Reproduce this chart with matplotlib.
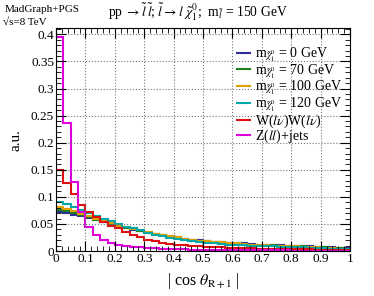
import numpy as np
import matplotlib
matplotlib.use('Agg')
import matplotlib.pyplot as plt
from matplotlib.ticker import MultipleLocator, FormatStrFormatter

plt.rcParams['font.family'] = ['Liberation Serif', 'DejaVu Serif']
plt.rcParams['mathtext.fontset'] = 'stix'

# |cos theta| histograms, 40 bins of 0.025
edges = np.linspace(0, 1, 41)

m0 = [0.072, 0.070, 0.067, 0.064, 0.061, 0.057, 0.053, 0.049, 0.045, 0.042,
      0.039, 0.037, 0.034, 0.032, 0.029, 0.027, 0.025, 0.023, 0.021, 0.0195,
      0.018, 0.017, 0.016, 0.015, 0.0145, 0.014, 0.013, 0.012, 0.0115, 0.011,
      0.0105, 0.010, 0.0095, 0.009, 0.0085, 0.008, 0.0075, 0.007, 0.006, 0.005]
m70 = [0.076, 0.073, 0.070, 0.066, 0.062, 0.058, 0.054, 0.050, 0.046, 0.043,
       0.040, 0.037, 0.034, 0.032, 0.029, 0.027, 0.025, 0.023, 0.021, 0.019,
       0.018, 0.017, 0.016, 0.015, 0.014, 0.013, 0.012, 0.0115, 0.011, 0.0105,
       0.010, 0.0095, 0.009, 0.0085, 0.008, 0.0075, 0.007, 0.006, 0.005, 0.004]
m100 = [0.082, 0.078, 0.074, 0.069, 0.065, 0.060, 0.056, 0.052, 0.047, 0.044,
        0.041, 0.038, 0.035, 0.032, 0.030, 0.028, 0.025, 0.023, 0.021, 0.019,
        0.018, 0.017, 0.016, 0.015, 0.014, 0.013, 0.012, 0.011, 0.0105, 0.010,
        0.0095, 0.009, 0.0085, 0.008, 0.0075, 0.007, 0.006, 0.005, 0.004, 0.003]
m120 = [0.091, 0.087, 0.081, 0.076, 0.070, 0.065, 0.060, 0.055, 0.050, 0.045,
        0.042, 0.038, 0.034, 0.030, 0.027, 0.024, 0.022, 0.020, 0.018, 0.016,
        0.015, 0.014, 0.013, 0.012, 0.011, 0.0105, 0.010, 0.0095, 0.009, 0.0085,
        0.008, 0.0075, 0.007, 0.0065, 0.006, 0.0055, 0.005, 0.004, 0.0035, 0.003]
ww = [0.150, 0.126, 0.105, 0.085, 0.072, 0.062, 0.054, 0.047, 0.042, 0.035,
      0.029, 0.025, 0.021, 0.018, 0.015, 0.013, 0.012, 0.011, 0.0095, 0.0085,
      0.0075, 0.007, 0.0065, 0.006, 0.0055, 0.005, 0.0048, 0.0045, 0.0042, 0.004,
      0.0038, 0.0035, 0.0032, 0.003, 0.0028, 0.0026, 0.0024, 0.0022, 0.002, 0.0018]
zjets = [0.395, 0.236, 0.127, 0.072, 0.045, 0.029, 0.021, 0.015, 0.011, 0.009,
         0.0075, 0.0065, 0.0055, 0.0048, 0.0042, 0.0037, 0.0033, 0.003, 0.0027, 0.0024,
         0.0022, 0.002, 0.0018, 0.0017, 0.0016, 0.0015, 0.0014, 0.0013, 0.0012, 0.0011,
         0.001, 0.001, 0.0009, 0.0009, 0.0008, 0.0008, 0.0007, 0.0007, 0.0006, 0.0006]

series = [m0, m70, m100, m120, ww, zjets]
labels = [r'm$_{\tilde{\chi}^0_1}$ = 0 GeV',
          r'm$_{\tilde{\chi}^0_1}$ = 70 GeV',
          r'm$_{\tilde{\chi}^0_1}$ = 100 GeV',
          r'm$_{\tilde{\chi}^0_1}$ = 120 GeV',
          r'W($l\nu$)W($l\nu$)',
          r'Z($ll$)+jets']
colors = ['#2e2e9a', '#1f7f1f', '#e0a000', '#00a8a8', '#dd1111', '#dd00dd']

fig = plt.figure(figsize=(3.74, 2.96), dpi=100)
ax = fig.add_axes([0.150, 0.152, 0.786, 0.752])

for vals, lab, col in zip(series, labels, colors):
    ax.stairs(vals, edges, color=col, lw=1.5, label=lab, baseline=None)

ax.set_xlim(0, 1)
ax.set_ylim(0, 0.411)
ax.xaxis.set_major_locator(MultipleLocator(0.1))
ax.xaxis.set_minor_locator(MultipleLocator(0.02))
ax.yaxis.set_major_locator(MultipleLocator(0.05))
ax.yaxis.set_minor_locator(MultipleLocator(0.01))
ax.xaxis.set_major_formatter(FormatStrFormatter('%g'))
ax.yaxis.set_major_formatter(FormatStrFormatter('%g'))
ax.tick_params(which='both', direction='in', top=True, right=True, labelsize=9.5, pad=1.5)
ax.tick_params(which='major', length=7)
ax.tick_params(which='minor', length=3.5)
ax.grid(True, which='major', color='#777777', linestyle=':', linewidth=0.8)

ax.set_ylabel('a.u.', fontsize=11)
ax.yaxis.set_label_coords(-0.115, 0.5)
ax.set_xlabel(r'| cos $\theta_{\mathrm{R+1}}$ |', fontsize=11.5, labelpad=4)

leg = ax.legend(loc='upper right', bbox_to_anchor=(1.0, 0.96), frameon=False,
                fontsize=10, handlelength=1.0, handletextpad=0.3,
                labelspacing=-0.12, borderaxespad=0.2)

fig.text(0.289, 0.941,
         r'pp $\rightarrow\tilde{l}\,\tilde{l}$; $\tilde{l}\rightarrow l\ \tilde{\chi}^0_1$;  m$_{\tilde{l}}$ = 150 GeV',
         fontsize=9.8, ha='left', va='baseline')
fig.text(0.013, 0.96, 'MadGraph+PGS', fontsize=8, va='baseline')
fig.text(0.008, 0.915, '\u221as=8 TeV', fontsize=8, va='baseline')

fig.savefig('out.png', dpi=100)
